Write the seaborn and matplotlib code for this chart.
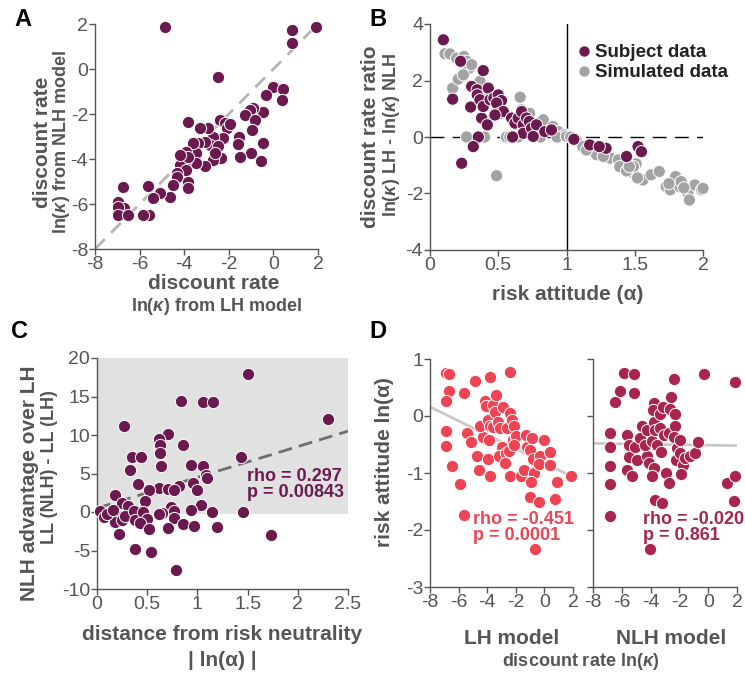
import numpy as np
import pandas as pd
import matplotlib
matplotlib.use("Agg")
import matplotlib.pyplot as plt
from matplotlib.lines import Line2D
import seaborn as sns

# ---------------- data ----------------
# Panel A: ln(kappa) LH vs NLH
a_lh = [-4.84, -2.48, 0.84, 0.84, 1.93,
        -0.01, -0.31, 0.43, 0.40, -0.46,
        -0.91, -1.03, -1.28, -0.81, -0.94,
        -0.46, -0.99, -0.57, -1.51, -1.54,
        -1.58, -2.40, -2.18, -2.10, -1.96,
        -2.28, -2.33, -2.70, -2.85, -2.70,
        -2.48, -2.63, -2.93, -3.30, -3.07,
        -3.37, -3.45, -3.07, -3.45, -3.60,
        -3.82, -3.90, -3.90, -4.12, -4.19,
        -3.90, -3.82, -4.34, -4.34, -4.49,
        -3.85, -3.82, -4.64, -5.09, -5.39,
        -5.61, -5.58, -5.84, -6.73, -6.96,
        -6.70, -6.96, -6.96, -6.51, -4.19]
a_nlh = [1.88, -0.34, 1.73, 1.17, 1.88,
         -0.81, -1.16, -0.90, -1.38, -1.90,
         -1.75, -1.82, -2.04, -2.27, -2.71,
         -3.27, -3.72, -4.07, -3.90, -3.01,
         -3.33, -2.27, -2.41, -2.64, -2.44,
         -3.05, -3.97, -3.01, -3.38, -4.04,
         -3.42, -3.72, -2.64, -2.64, -3.23,
         -3.30, -3.75, -4.31, -4.19, -3.30,
         -2.34, -3.67, -4.04, -3.90, -4.27,
         -4.49, -3.90, -4.64, -4.79, -5.16,
         -5.01, -5.30, -5.67, -5.53, -5.75,
         -5.20, -6.49, -6.49, -5.23, -5.90,
         -6.19, -6.12, -6.49, -6.49, -3.82]
a_ticks = [-8, -6, -4, -2, 0, 2]

# Panel B: risk attitude vs discount rate ratio
b_subj_alpha = [0.098, 0.166, 0.224, 0.39, 0.305,
                0.298, 0.346, 0.346, 0.366, 0.378,
                0.42, 0.39, 0.427, 0.44, 0.468,
                0.50, 0.524, 0.488, 0.512, 0.537,
                0.476, 0.598, 0.622, 0.646, 0.671,
                0.683, 0.707, 0.727, 0.683, 0.744,
                0.78, 0.841, 0.89, 0.756, 0.605,
                0.354, 0.317, 0.232, 1.054, 1.17,
                1.29, 1.44, 1.524, 1.549, 1.24]
b_subj_ratio = [3.44, 1.34, 2.68, 2.35, 1.79,
                1.06, 1.67, 1.49, 1.32, 0.67,
                0.43, 1.08, 1.73, 1.32, 1.38,
                1.49, 1.29, 1.20, 0.84, 0.90,
                0.78, 0.67, 0.49, 0.67, 0.90,
                0.43, 0.67, 0.55, 0.13, 0.31,
                0.43, 0.19, 0.25, 0.02, 0.0,
                0.0, -0.34, -0.93, -0.08, -0.28,
                -0.40, -0.69, -0.34, -0.52, -0.34]
b_sim_alpha = [0.11, 0.146, 0.195, 0.249, 0.268,
               0.29, 0.305, 0.166, 0.207, 0.244,
               0.366, 0.40, 0.66, 0.67, 0.73,
               0.83, 0.90, 0.94, 0.99, 1.07,
               1.12, 1.22, 1.32, 1.38, 1.39,
               1.49, 1.51, 1.49, 1.56, 1.62,
               1.68, 1.73, 1.76, 1.80, 1.83,
               1.84, 1.89, 1.90, 1.94, 1.99,
               2.0, 0.268, 0.39, 0.40, 0.56,
               0.585, 0.646, 0.81, 0.93, 0.488,
               1.146, 1.27, 1.0, 1.03, 0.76,
               1.44, 1.52, 1.75, 1.86, 1.46]
b_sim_ratio = [2.95, 2.94, 2.79, 2.85, 2.68,
               2.44, 2.56, 1.73, 2.05, 2.20,
               1.97, 1.44, 1.41, 0.96, 0.84,
               0.61, 0.37, 0.19, 0.08, -0.10,
               -0.34, -0.63, -0.75, -0.81, -1.05,
               -1.28, -0.95, -1.05, -1.52, -1.34,
               -1.22, -1.76, -1.87, -1.40, -1.76,
               -1.58, -1.99, -2.23, -1.70, -1.87,
               -1.82, 0.0, 0.0, 0.0, 0.0,
               0.0, 0.0, 0.0, 0.0, -1.37,
               -0.46, -0.69, 0.02, 0.0, 0.42,
               -1.20, -1.45, -1.65, -1.80, -1.05]
b_groups = ["Subject data", "Simulated data"]
b_xticks = [0, 0.5, 1, 1.5, 2]
b_yticks = [-4, -2, 0, 2, 4]

# Panel C: distance from risk neutrality vs NLH advantage
c_dist = [1.507, 2.30, 0.834, 1.053, 1.159,
          0.265, 0.712, 0.613, 0.629, 0.854,
          0.629, 0.348, 0.44, 1.434, 0.636,
          0.934, 1.06, 1.086, 1.093, 0.331,
          0.407, 0.613, 0.712, 0.818, 0.762,
          0.954, 0.993, 0.513, 0.182, 0.474,
          0.248, 0.308, 0.735, 1.036, 0.934,
          0.762, 0.646, 0.033, 0.066, 0.132,
          0.199, 0.182, 0.248, 0.281, 0.364,
          0.381, 0.454, 0.497, 0.430, 0.513,
          0.222, 0.374, 0.540, 0.785, 0.762,
          0.705, 0.861, 0.970, 1.149, 1.199,
          1.457, 1.738, 0.619, 0.10, 0.16]
c_adv = [17.97, 12.12, 14.46, 14.24, 14.24,
         11.13, 10.17, 9.52, 8.66, 8.74,
         7.66, 7.10, 7.10, 7.10, 6.02,
         6.15, 5.93, 4.85, 4.42, 5.41,
         3.68, 3.12, 3.03, 3.42, 2.81,
         3.77, 2.81, 2.90, 2.16, 1.39,
         1.17, 0.74, 0.65, 0.95, 0.30,
         0.09, -0.13, 0.09, -0.65, -0.13,
         -0.56, -1.30, -1.0, -0.56, 0.09,
         -1.0, -0.04, -0.87, -1.43, -2.21,
         -2.86, -4.81, -5.19, -7.58, -0.78,
         -2.08, -1.52, -1.86, 0.0, -1.95,
         0.0, -2.94, -0.26, -0.30, 0.20]
c_fit_x = [0.0, 2.5]
c_fit_y = [0.5, 10.5]
c_shade = [-0.3, 20]
c_xticks = [0, 0.5, 1, 1.5, 2, 2.5]
c_yticks = [-10, -5, 0, 5, 10, 15, 20]
c_stats = "rho = 0.297\np = 0.00843"

# Panel D: discount rate vs risk attitude
d_lh_k = [-6.88, -6.64, -6.67, -6.88, -6.88,
          -6.88, -6.48, -5.90, -5.59, -5.38,
          -5.15, -4.85, -4.73, -4.57, -3.79,
          -4.14, -4.31, -4.50, -4.10, -3.91,
          -3.79, -3.84, -3.91, -3.79, -3.56,
          -3.37, -3.44, -3.61, -3.26, -3.09,
          -2.91, -2.98, -3.16, -2.63, -2.67,
          -2.74, -2.44, -2.39, -2.28, -2.16,
          -2.21, -2.51, -2.39, -1.97, -2.11,
          -1.62, -1.41, -1.27, -1.22, -1.00,
          -0.87, -0.80, -0.76, -0.94, -1.00,
          -0.41, -0.64, -0.29, -0.41, -0.06,
          0.41, 0.36, 0.76, 0.88, 1.86,
          -5.59]
d_lh_a = [0.75, 0.74, 0.43, 0.26, -0.27,
          -0.52, -0.87, -1.19, 0.41, -0.29,
          -0.46, 0.61, -0.71, -0.95, 0.68,
          0.27, -0.37, -0.17, 0.17, -0.07,
          -0.17, -0.42, -0.76, -1.06, 0.20,
          0.37, 0.07, -0.20, -0.10, -0.21,
          0.16, -0.54, -0.71, -0.21, -0.65,
          -0.82, 0.77, 0.06, -0.07, -0.18,
          -0.42, -0.62, -1.06, -0.35, -0.51,
          -1.06, -0.95, -0.33, -0.54, -0.60,
          -0.39, -0.76, -1.0, -1.15, -1.42,
          -1.50, -2.33, -0.71, -0.84, -0.42,
          -0.64, -0.86, -1.46, -1.15, -1.05,
          -1.73]
d_nlh_k = [-6.84, -6.84, -6.84, -6.84, -6.84,
           -6.45, -6.15, -5.87, -5.18, -5.13,
           -5.64, -5.52, -5.52, -5.64, -5.29,
           -4.94, -5.06, -4.60, -4.71, -4.25,
           -4.25, -4.36, -4.13, -3.90, -3.74,
           -3.83, -3.79, -3.67, -3.56, -3.79,
           -3.90, -3.67, -3.21, -4.02, -3.32,
           -3.32, -3.14, -3.28, -3.09, -2.75,
           -2.91, -2.75, -2.58, -2.68, -2.40,
           -2.28, -2.28, -2.35, -2.17, -2.21,
           -1.94, -1.98, -1.75, -1.89, -1.59,
           -1.24, -0.89, -0.73, -0.31, 1.31,
           1.88, 1.88, 1.81]
d_nlh_a = [-0.30, -0.54, -0.88, -1.20, -1.76,
           0.24, 0.43, 0.75, 0.74, 0.41,
           -0.33, -0.51, -0.72, -0.95, -1.06,
           -0.77, -0.54, -0.17, -0.39, -0.24,
           -0.71, -0.51, -0.83, -0.43, 0.23,
           0.11, -0.10, -0.24, -0.51, -0.92,
           -1.06, -1.48, -1.52, -2.33, 0.04,
           -0.21, 0.16, -0.64, -0.33, -0.30,
           -1.0, -1.17, 0.33, 0.13, 0.65,
           0.03, -0.18, -0.37, -0.57, -0.77,
           -0.42, -0.65, -0.86, -1.02, -0.74,
           -0.71, -0.65, -0.45, 0.74, -1.18,
           0.59, -1.06, -1.49]
d_lh_fit_x = [-8.0, 1.58]
d_lh_fit_y = [0.16, -1.02]
d_nlh_fit_x = [-8.0, 2.0]
d_nlh_fit_y = [-0.48, -0.52]
d_xticks = [-8, -6, -4, -2, 0, 2]
d_yticks = [-3, -2, -1, 0, 1]
d_lh_stats = "rho = -0.451\np = 0.0001"
d_nlh_stats = "rho = -0.020\np = 0.861"

# ---------------- style ----------------
sns.set_style("ticks")
plt.rcParams["font.family"] = ["Liberation Sans", "DejaVu Sans"]
plt.rcParams["axes.unicode_minus"] = False
plt.rcParams["mathtext.fontset"] = "custom"
plt.rcParams["mathtext.it"] = "Liberation Sans:italic:bold"
plt.rcParams["mathtext.rm"] = "Liberation Sans:bold"
plt.rcParams["mathtext.bf"] = "Liberation Sans:bold"

PURPLE = "#6b1a4f"
GREY = "#a3a3a3"
RED = "#ee4454"
MAROON = "#a8254e"
AXC = "#555555"
TICKFS = 14
LABFS = 15
SUBFS = 13

W, H = 745, 673
fig = plt.figure(figsize=(W / 100, H / 100), dpi=100)


def px_axes(l, t, r, b):
    return fig.add_axes([l / W, 1 - b / H, (r - l) / W, (b - t) / H])


def style_ax(ax, labelleft=True):
    sns.despine(ax=ax)
    for s in ["left", "bottom"]:
        ax.spines[s].set_color(AXC)
        ax.spines[s].set_linewidth(1.0)
    ax.tick_params(colors=AXC, labelcolor=AXC, labelsize=TICKFS, length=4,
                   width=1.0, direction="out", pad=1, labelleft=labelleft)
    ax.set_xlabel("")
    ax.set_ylabel("")


def ftext(x, y, s, **kw):
    kw.setdefault("ha", "center")
    kw.setdefault("va", "center")
    kw.setdefault("color", AXC)
    kw.setdefault("fontweight", "bold")
    fig.text(x / W, 1 - y / H, s, **kw)


sc_kw = dict(s=78, edgecolor="white", linewidth=0.7, clip_on=False, legend=False)

# ---------------- Panel A ----------------
axA = px_axes(95, 24, 318, 249)
axA.plot([a_ticks[0], a_ticks[-1]], [a_ticks[0], a_ticks[-1]], ls=(0, (5, 3.2)),
         color="#b5b5b5", lw=2.0, zorder=1)
sns.scatterplot(x=a_lh, y=a_nlh, color=PURPLE, ax=axA, zorder=3, **sc_kw)
axA.set_xlim(a_ticks[0], a_ticks[-1])
axA.set_ylim(a_ticks[0], a_ticks[-1])
axA.set_xticks(a_ticks)
axA.set_yticks(a_ticks)
style_ax(axA)
ftext(214, 283, "discount rate", fontsize=LABFS)
ftext(216, 307, r"ln($\kappa$) from LH model", fontsize=SUBFS)
ftext(42, 142, "discount rate", fontsize=LABFS, rotation=90)
ftext(61, 142, r"ln($\kappa$) from NLH model", fontsize=SUBFS, rotation=90)

# ---------------- Panel B ----------------
axB = px_axes(430, 24, 703, 250)
axB.axhline(0, color="black", lw=1.0, ls=(0, (10, 6)), zorder=1)
axB.axvline(1, color="black", lw=1.0, zorder=1)
df_b = pd.DataFrame({
    "alpha": b_sim_alpha + b_subj_alpha,
    "ratio": b_sim_ratio + b_subj_ratio,
    "group": [b_groups[1]] * len(b_sim_alpha) + [b_groups[0]] * len(b_subj_alpha),
})
sns.scatterplot(data=df_b, x="alpha", y="ratio", hue="group",
                palette={b_groups[0]: PURPLE, b_groups[1]: GREY},
                ax=axB, zorder=3, **sc_kw)
axB.set_xlim(b_xticks[0], b_xticks[-1])
axB.set_ylim(b_yticks[0], b_yticks[-1])
axB.set_xticks(b_xticks)
axB.set_xticklabels(["0", "0.5", "1", "1.5", "2"])
axB.set_yticks(b_yticks)
style_ax(axB)
handles = [Line2D([], [], ls="", marker="o", markersize=8, color=c,
                  markeredgecolor="white", markeredgewidth=0.5)
           for c in [PURPLE, GREY]]
leg = axB.legend(handles, b_groups, loc="upper left",
                 bbox_to_anchor=((578 - 430) / 273, 1 - (44 - 24) / 226),
                 frameon=False, handlelength=0.6, handletextpad=0.3,
                 labelspacing=0.15, borderpad=0, borderaxespad=0,
                 prop={"weight": "bold", "size": 13.5})
for t in leg.get_texts():
    t.set_color("#222222")
ftext(568, 295, "risk attitude (α)", fontsize=LABFS)
ftext(371, 137, "discount rate ratio", fontsize=LABFS, rotation=90)
ftext(392, 135, r"ln($\kappa$) LH - ln($\kappa$) NLH", fontsize=SUBFS, rotation=90)

# ---------------- Panel C ----------------
axC = px_axes(97, 358, 348, 589)
axC.axhspan(c_shade[0], c_shade[1], color="#e1e1e1", lw=0, zorder=0)
axC.plot(c_fit_x, c_fit_y, color="#6e6e6e", lw=2.0, ls=(0, (5, 2.6)), zorder=2)
sns.scatterplot(x=c_dist, y=c_adv, color=PURPLE, ax=axC, zorder=3, **sc_kw)
axC.set_xlim(c_xticks[0], c_xticks[-1])
axC.set_ylim(c_yticks[0], c_yticks[-1])
axC.set_xticks(c_xticks)
axC.set_xticklabels(["0", "0.5", "1", "1.5", "2", "2.5"])
axC.set_yticks(c_yticks)
style_ax(axC)
axC.text(1.49, 3.6, c_stats, color=PURPLE, fontsize=13, fontweight="bold",
         ha="left", va="center", linespacing=0.9, zorder=4)
ftext(222, 635, "distance from risk neutrality", fontsize=LABFS)
ftext(222, 661, "| ln(α) |", fontsize=LABFS)
ftext(30, 483, "NLH advantage over LH", fontsize=LABFS, rotation=90)
ftext(50, 467, "LL (NLH) - LL (LH)", fontsize=SUBFS, rotation=90)

# ---------------- Panel D ----------------
axD1 = px_axes(430, 359, 573, 587)
axD2 = px_axes(593, 359, 737, 587)
axD1.plot(d_lh_fit_x, d_lh_fit_y, color="#c8c8c8", lw=2.0, zorder=1)
axD2.plot(d_nlh_fit_x, d_nlh_fit_y, color="#c8c8c8", lw=2.0, zorder=1)
sns.scatterplot(x=d_lh_k, y=d_lh_a, color=RED, ax=axD1, zorder=3, **sc_kw)
sns.scatterplot(x=d_nlh_k, y=d_nlh_a, color=MAROON, ax=axD2, zorder=3, **sc_kw)
for ax, lab_left in [(axD1, True), (axD2, False)]:
    ax.set_xlim(d_xticks[0], d_xticks[-1])
    ax.set_ylim(d_yticks[0], d_yticks[-1])
    ax.set_xticks(d_xticks)
    ax.set_yticks(d_yticks)
    style_ax(ax, labelleft=lab_left)
axD1.text(-5.0, -1.95, d_lh_stats, color=RED, fontsize=13, fontweight="bold",
          ha="left", va="center", linespacing=0.9, zorder=4)
axD2.text(-4.55, -1.95, d_nlh_stats, color=MAROON, fontsize=13, fontweight="bold",
          ha="left", va="center", linespacing=0.9, zorder=4)
ftext(512, 638, "LH model", fontsize=LABFS)
ftext(671, 638, "NLH model", fontsize=LABFS)
ftext(581, 662, r"discount rate ln($\kappa$)", fontsize=SUBFS)
ftext(384, 462, "risk attitude ln(α)", fontsize=LABFS, rotation=90)

# ---------------- panel letters ----------------
for (x, y, s) in [(23, 20, "A"), (378, 20, "B"), (20, 332, "C"), (378, 332, "D")]:
    ftext(x, y, s, fontsize=17, color="black")

fig.savefig("out.png", dpi=100)
